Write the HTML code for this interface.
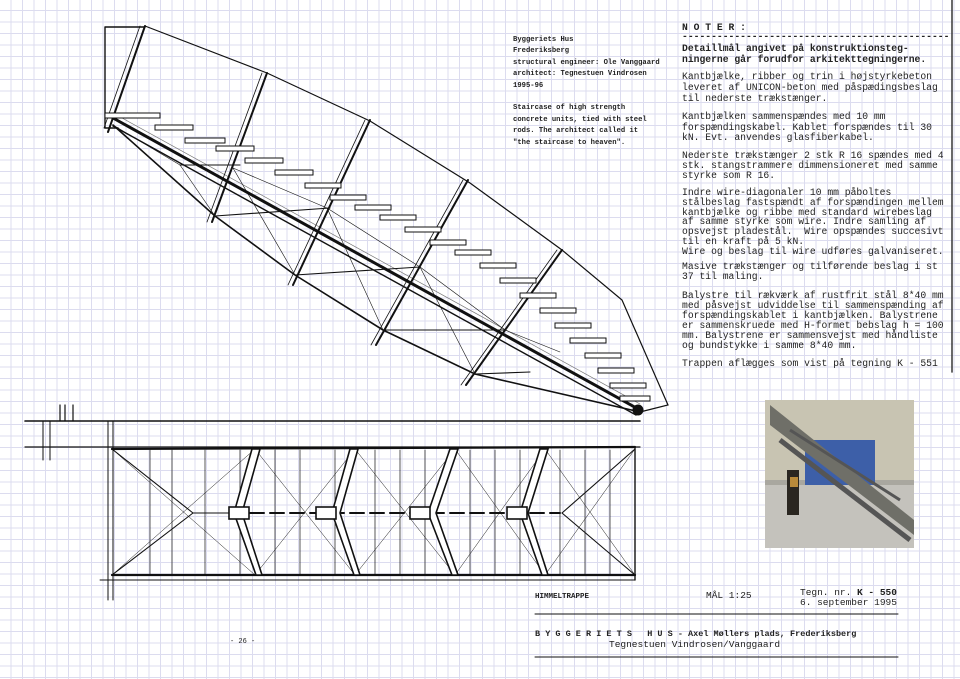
<!DOCTYPE html>
<html><head><meta charset="utf-8"><style>
html,body{margin:0;padding:0}
body{width:960px;height:679px;position:relative;overflow:hidden;background-color:#fff;
background-image:linear-gradient(to right,#dcdcef 1px,transparent 1px),linear-gradient(to bottom,#dcdcef 1px,transparent 1px);
background-size:11.5px 11.5px;background-position:-1px 10px;font-family:"Liberation Mono",monospace;color:#222}
.t{position:absolute;white-space:pre;font-family:"Liberation Mono",monospace}
.n{left:682px;font-size:9.7px;line-height:10px}
.cap{left:513px;top:35px;font-size:7.2px;line-height:11.4px;font-weight:bold}
svg{position:absolute;left:0;top:0}
</style></head><body>
<svg width="960" height="679" viewBox="0 0 960 679">
<g stroke="#111" fill="none" stroke-linecap="round">
<path d="M105 27 H145 M105 27 V128 H118" stroke-width="1.4"/>
<polyline points="145,26 267,73 370,121 470,183 562,250 622,300 668,405 640,412" stroke-width="1.2"/>
<polyline points="113,125 215,216 295,275 383,330 475,374 640,412" stroke-width="1.6"/>
<line x1="113" y1="118" x2="640" y2="410" stroke-width="3"/>
<line x1="113" y1="126" x2="636" y2="415" stroke-width="1.4"/>
<line x1="113" y1="113" x2="640" y2="404" stroke-width="0.7" stroke="#777"/>
<g stroke-width="2">
<line x1="145" y1="26" x2="108" y2="132"/>
<line x1="267" y1="73" x2="212" y2="222"/>
<line x1="370" y1="120" x2="293" y2="285"/>
<line x1="468" y1="180" x2="376" y2="345"/>
<line x1="562" y1="250" x2="466" y2="385"/>
</g>
<g stroke-width="0.8">
<line x1="140" y1="26" x2="104" y2="128"/>
<line x1="262" y1="73" x2="207" y2="222"/>
<line x1="365" y1="120" x2="288" y2="285"/>
<line x1="463" y1="180" x2="371" y2="345"/>
<line x1="557" y1="250" x2="461" y2="385"/>
</g>
<g stroke-width="1.1">
<line x1="215" y1="216" x2="330" y2="208"/>
<line x1="295" y1="275" x2="420" y2="267"/>
<line x1="383" y1="330" x2="505" y2="330"/>
<line x1="475" y1="374" x2="530" y2="372"/>
<line x1="180" y1="165" x2="240" y2="165"/>
</g>
<g stroke-width="0.6">
<line x1="113" y1="125" x2="180" y2="165"/><line x1="180" y1="165" x2="215" y2="216"/>
<line x1="233" y1="168" x2="295" y2="275"/><line x1="327" y1="208" x2="383" y2="330"/>
<line x1="420" y1="267" x2="475" y2="374"/><line x1="505" y1="330" x2="560" y2="352"/>
<line x1="233" y1="168" x2="327" y2="208"/><line x1="327" y1="208" x2="420" y2="267"/>
<line x1="420" y1="267" x2="505" y2="330"/>
</g>
<g stroke-width="1" fill="#fff">
<rect x="105" y="113" width="55" height="5"/>
<rect x="155" y="125" width="38" height="5"/>
<rect x="185" y="138" width="40" height="5"/>
<rect x="216" y="146" width="38" height="5"/>
<rect x="245" y="158" width="38" height="5"/>
<rect x="275" y="170" width="38" height="5"/>
<rect x="305" y="183" width="36" height="5"/>
<rect x="330" y="195" width="36" height="5"/>
<rect x="355" y="205" width="36" height="5"/>
<rect x="380" y="215" width="36" height="5"/>
<rect x="405" y="227" width="36" height="5"/>
<rect x="430" y="240" width="36" height="5"/>
<rect x="455" y="250" width="36" height="5"/>
<rect x="480" y="263" width="36" height="5"/>
<rect x="500" y="278" width="36" height="5"/>
<rect x="520" y="293" width="36" height="5"/>
<rect x="540" y="308" width="36" height="5"/>
<rect x="555" y="323" width="36" height="5"/>
<rect x="570" y="338" width="36" height="5"/>
<rect x="585" y="353" width="36" height="5"/>
<rect x="598" y="368" width="36" height="5"/>
<rect x="610" y="383" width="36" height="5"/>
<rect x="620" y="396" width="30" height="5"/>
</g>
<circle cx="638" cy="410" r="5" fill="#111"/>
<line x1="25" y1="421" x2="640" y2="421" stroke-width="1.6"/>
<line x1="25" y1="447" x2="640" y2="447" stroke-width="1.2"/>
<line x1="112" y1="449" x2="635" y2="447" stroke-width="2.2"/>
<line x1="112" y1="575" x2="635" y2="575" stroke-width="2.2"/>
<line x1="100" y1="580" x2="635" y2="580" stroke-width="0.9"/>
<line x1="60" y1="405" x2="60" y2="421" stroke-width="1.2"/><line x1="65" y1="405" x2="65" y2="421" stroke-width="1.2"/><line x1="73" y1="405" x2="73" y2="421" stroke-width="1.2"/>
<line x1="43" y1="421" x2="43" y2="460" stroke-width="1"/><line x1="50" y1="421" x2="50" y2="460" stroke-width="1"/>
<line x1="108" y1="421" x2="108" y2="600" stroke-width="1"/><line x1="113" y1="421" x2="113" y2="600" stroke-width="1"/>
<line x1="635" y1="447" x2="635" y2="580" stroke-width="1.4"/>
<g stroke-width="0.7">
<line x1="150" y1="450" x2="150" y2="575"/><line x1="172" y1="450" x2="172" y2="575"/><line x1="205" y1="450" x2="205" y2="575"/><line x1="240" y1="450" x2="240" y2="575"/>
<line x1="275" y1="450" x2="275" y2="575"/><line x1="300" y1="450" x2="300" y2="575"/><line x1="335" y1="450" x2="335" y2="575"/>
<line x1="375" y1="450" x2="375" y2="575"/><line x1="400" y1="450" x2="400" y2="575"/><line x1="425" y1="450" x2="425" y2="575"/>
<line x1="470" y1="450" x2="470" y2="575"/><line x1="495" y1="450" x2="495" y2="575"/><line x1="520" y1="450" x2="520" y2="575"/>
<line x1="560" y1="450" x2="560" y2="575"/><line x1="585" y1="450" x2="585" y2="575"/><line x1="610" y1="450" x2="610" y2="575"/>
</g>
<g stroke-width="1.1">
<line x1="112" y1="449" x2="193" y2="513"/><line x1="112" y1="575" x2="193" y2="513"/>
<line x1="193" y1="513" x2="230" y2="513"/>
<line x1="635" y1="449" x2="562" y2="513"/><line x1="635" y1="575" x2="562" y2="513"/>
<line x1="230" y1="513" x2="560" y2="513" stroke-width="2" stroke-dasharray="14 6"/>
<line x1="112" y1="449" x2="255" y2="575" stroke-width="0.5"/><line x1="112" y1="575" x2="255" y2="449" stroke-width="0.5"/>
<line x1="255" y1="449" x2="355" y2="575" stroke-width="0.5"/><line x1="255" y1="575" x2="355" y2="449" stroke-width="0.5"/>
<line x1="355" y1="449" x2="455" y2="575" stroke-width="0.5"/><line x1="355" y1="575" x2="455" y2="449" stroke-width="0.5"/>
<line x1="455" y1="449" x2="545" y2="575" stroke-width="0.5"/><line x1="455" y1="575" x2="545" y2="449" stroke-width="0.5"/>
<line x1="545" y1="449" x2="635" y2="575" stroke-width="0.5"/><line x1="545" y1="575" x2="635" y2="449" stroke-width="0.5"/>
</g>
<g stroke-width="1.6" fill="#fff">
<path d="M252 449 L234 513 L256 575 L262 575 L242 513 L260 449 Z"/>
<path d="M350 449 L332 513 L354 575 L360 575 L340 513 L358 449 Z"/>
<path d="M450 449 L428 513 L452 575 L458 575 L436 513 L458 449 Z"/>
<path d="M540 449 L520 513 L542 575 L548 575 L528 513 L548 449 Z"/>
<rect x="229" y="507" width="20" height="12"/><rect x="316" y="507" width="20" height="12"/>
<rect x="410" y="507" width="20" height="12"/><rect x="507" y="507" width="20" height="12"/>
</g>
<line x1="535" y1="614" x2="898" y2="614" stroke-width="1"/>
<line x1="535" y1="657" x2="898" y2="657" stroke-width="1"/>
<line x1="952" y1="0" x2="952" y2="372" stroke-width="1.6" stroke="#444"/>
</g>
<rect x="765" y="400" width="149" height="148" fill="#a9a79f"/>
<rect x="765" y="400" width="149" height="80" fill="#c8c4b2"/>
<rect x="805" y="440" width="70" height="45" fill="#3d5fa8"/>
<rect x="765" y="485" width="149" height="63" fill="#c4c2bc"/>
<path d="M770 405 L914 520 L914 535 L770 425 Z" fill="#6f6f68"/>
<path d="M780 440 L910 540" stroke="#555" stroke-width="5"/>
<path d="M790 430 L900 500" stroke="#555" stroke-width="3"/>
<rect x="787" y="470" width="12" height="45" fill="#2a2620"/>
<rect x="790" y="477" width="8" height="10" fill="#b98a3a"/>
</svg>
<div class="t cap">Byggeriets Hus
Frederiksberg
structural engineer: Ole Vanggaard
architect: Tegnestuen Vindrosen
1995-96

Staircase of high strength
concrete units, tied with steel
rods. The architect called it
"the staircase to heaven".</div>
<div class="t n" style="top:23px"><b>N O T E R :</b></div>
<div class="t n" style="top:32px"><b>----------------------------------------------</b></div>
<div class="t n" style="top:43px;line-height:11px"><b>Detaillmål angivet på konstruktionsteg-
ningerne går forudfor arkitekttegningerne.</b></div>
<div class="t n" style="top:72px;line-height:10.8px">Kantbjælke, ribber og trin i højstyrkebeton
leveret af UNICON-beton med påspædingsbeslag
til nederste trækstænger.</div>
<div class="t n" style="top:112px;line-height:10.5px">Kantbjælken sammenspændes med 10 mm
forspændingskabel. Kablet forspændes til 30
kN. Evt. anvendes glasfiberkabel.</div>
<div class="t n" style="top:151px">Nederste trækstænger 2 stk R 16 spændes med 4
stk. stangstrammere dimmensioneret med samme
styrke som R 16.</div>
<div class="t n" style="top:188px;line-height:9.8px">Indre wire-diagonaler 10 mm påboltes
stålbeslag fastspændt af forspændingen mellem
kantbjælke og ribbe med standard wirebeslag
af samme styrke som wire. Indre samling af
opsvejst pladestål.  Wire opspændes succesivt
til en kraft på 5 kN.
Wire og beslag til wire udføres galvaniseret.</div>
<div class="t n" style="top:262px">Masive trækstænger og tilførende beslag i st
37 til maling.</div>
<div class="t n" style="top:291px">Balystre til rækværk af rustfrit stål 8*40 mm
med påsvejst udviddelse til sammenspænding af
forspændingskablet i kantbjælken. Balystrene
er sammenskruede med H-formet bebslag h = 100
mm. Balystrene er sammensvejst med håndliste
og bundstykke i samme 8*40 mm.</div>
<div class="t n" style="top:359px">Trappen aflægges som vist på tegning K - 551</div>
<div class="t" style="left:535px;top:593px;font-size:7.5px;font-weight:bold">HIMMELTRAPPE</div>
<div class="t" style="left:706px;top:590px;font-size:9.5px">MÅL 1:25</div>
<div class="t" style="left:800px;top:588px;font-size:9.5px;line-height:10px">Tegn. nr. <b>K - 550</b>
6. september 1995</div>
<div class="t" style="left:535px;top:629px;font-size:8.5px;font-weight:bold">B Y G G E R I E T S   H U S - Axel Møllers plads, Frederiksberg</div>
<div class="t" style="left:609px;top:639px;font-size:9.5px">Tegnestuen Vindrosen/Vanggaard</div>
<div class="t" style="left:230px;top:638px;font-size:7px">- 26 -</div>
</body></html>
